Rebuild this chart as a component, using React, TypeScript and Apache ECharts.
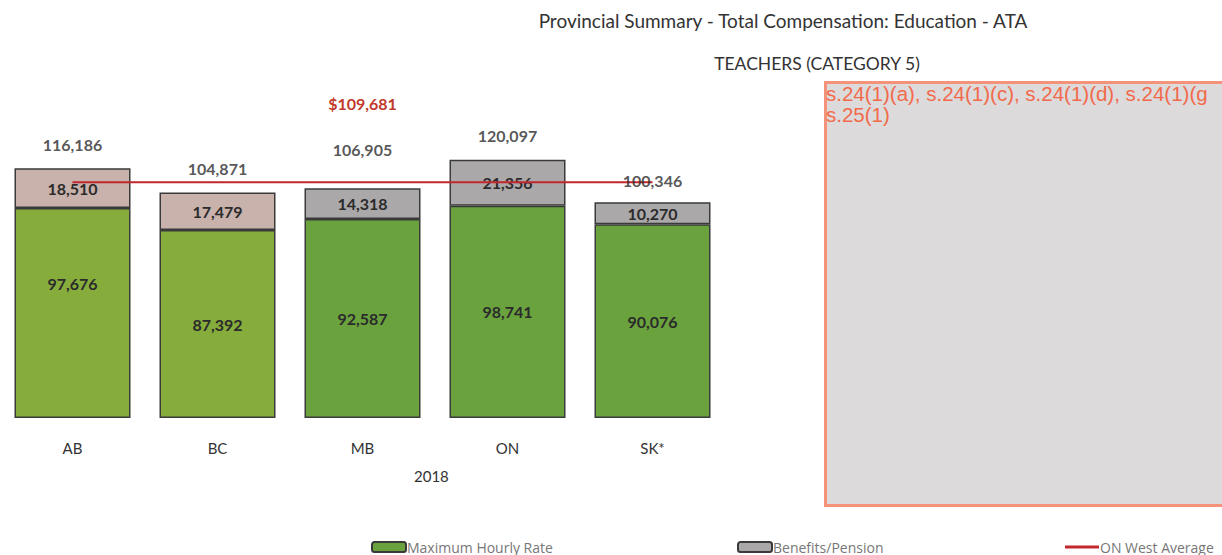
import React, { useEffect, useRef } from "react";
import * as echarts from "echarts";

const categories = ["AB", "BC", "MB", "ON", "SK*"];
const hourlyRate = [97676, 87392, 92587, 98741, 90076];
const benefits = [18510, 17479, 14318, 21356, 10270];
const totals = [116186, 104871, 106905, 120097, 100346];
const westAverage = [109681, 109681, 109681, 109681, 109681];

const greenColors = ["#86ad3c", "#86ad3c", "#6aa23e", "#6aa23e", "#6aa23e"];
const greyColors = ["#c9b1ac", "#c9b1ac", "#aba8aa", "#aba8aa", "#aba8aa"];

const FONT = "Lato";

export default function App() {
  const ref = useRef<HTMLDivElement>(null);
  useEffect(() => {
    const chart = echarts.init(ref.current!, undefined, { renderer: "svg" });
    const fmt = (v: number) => v.toLocaleString("en-US");
    const legendText = { fontSize: 14, color: "#777", fontFamily: "Open Sans", padding: [0, 0, 0, -4] };
    chart.setOption({
      animation: false,
      backgroundColor: "#ffffff",
      textStyle: { fontFamily: FONT },
      title: [
        {
          text: "Provincial Summary - Total Compensation: Education - ATA",
          left: 778,
          textAlign: "center",
          top: 6,
          textStyle: { fontFamily: FONT, fontSize: 19, fontWeight: "normal", color: "#333" },
        },
        {
          text: "TEACHERS (CATEGORY 5)",
          left: 812,
          textAlign: "center",
          top: 49,
          textStyle: { fontFamily: FONT, fontSize: 17.5, fontWeight: "normal", color: "#333" },
        },
      ],
      grid: { left: 0, width: 725, top: 117, height: 301, containLabel: false },
      xAxis: {
        type: "category",
        data: categories,
        axisLine: { show: false },
        axisTick: { show: false },
        axisLabel: { margin: 22, fontSize: 15, color: "#333", fontFamily: FONT },
      },
      yAxis: { type: "value", min: 0, max: 140000, show: false, splitLine: { show: false } },
      legend: [
        {
          data: ["Maximum Hourly Rate"],
          left: 366,
          top: 535,
          itemWidth: 34,
          itemHeight: 10,
          textStyle: legendText,
        },
        {
          data: ["Benefits/Pension"],
          left: 732,
          top: 535,
          itemWidth: 34,
          itemHeight: 10,
          textStyle: legendText,
        },
        {
          data: [{ name: "ON West Average", icon: "rect" }],
          left: 1060,
          top: 535,
          itemWidth: 34,
          itemHeight: 3,
          textStyle: legendText,
        },
      ],
      series: [
        {
          name: "Maximum Hourly Rate",
          type: "bar",
          stack: "total",
          barWidth: 116,
          itemStyle: { color: "#6aa23e", borderColor: "#3a3a3a", borderWidth: 1.5 },
          data: hourlyRate.map((v, i) => ({
            value: v,
            itemStyle: { color: greenColors[i] },
            label: i === 0 ? { offset: [0, -29] } : undefined,
          })),
          label: {
            show: true,
            position: "inside",
            formatter: (p: any) => fmt(p.value),
            fontSize: 16,
            fontWeight: "bold",
            color: "#2b2b2b",
            fontFamily: FONT,
          },
        },
        {
          name: "Benefits/Pension",
          type: "bar",
          stack: "total",
          barWidth: 116,
          itemStyle: { color: "#aba8aa", borderColor: "#3a3a3a", borderWidth: 1.5 },
          data: benefits.map((v, i) => ({ value: v, itemStyle: { color: greyColors[i] } })),
          label: {
            show: true,
            position: "inside",
            formatter: (p: any) => fmt(p.value),
            fontSize: 16,
            fontWeight: "bold",
            color: "#2b2b2b",
            fontFamily: FONT,
          },
        },
        {
          name: "ON West Average",
          type: "line",
          symbol: "circle",
          symbolSize: 0,
          showSymbol: true,
          lineStyle: { color: "#c1272d", width: 2 },
          itemStyle: { color: "#c1272d" },
          z: 5,
          data: westAverage.map((v, i) => ({
            value: v,
            label:
              i === 2
                ? {
                    show: true,
                    position: "top",
                    distance: 71,
                    formatter: "$" + fmt(v),
                    color: "#c0392b",
                    fontSize: 16,
                    fontWeight: "bold",
                    fontFamily: FONT,
                  }
                : { show: false },
          })),
        },
        {
          name: "Total",
          type: "scatter",
          symbolSize: 0,
          silent: true,
          z: 6,
          data: totals.map((v, i) => ({
            value: v,
            label: { distance: i === 2 ? 31 : i === 4 ? 14 : 16 },
          })),
          label: {
            show: true,
            position: "top",
            formatter: (p: any) => fmt(p.value),
            fontSize: 16,
            fontWeight: "bold",
            color: "#2b2b2b",
            fontFamily: FONT,
          },
        },
      ],
      graphic: [
        {
          type: "text",
          left: 414,
          top: 468,
          style: { text: "2018", fontSize: 15, fill: "#333", fontFamily: FONT },
        },
        {
          type: "rect",
          shape: { x: 825.5, y: 82.5, width: 400, height: 423 },
          style: { fill: "#dcdadb", stroke: "#f5937a", lineWidth: 3 },
        },
        {
          type: "text",
          x: 826,
          y: 83,
          style: {
            text: "s.24(1)(a), s.24(1)(c), s.24(1)(d), s.24(1)(g\ns.25(1)",
            fontSize: 20.5,
            lineHeight: 21,
            fill: "#f26a4b",
            fontFamily: "Liberation Sans",
          },
        },
      ],
    });
    return () => chart.dispose();
  }, []);
  return (
    <div
      ref={ref}
      style={{ position: "absolute", left: 0, top: 0, width: 1222, height: 555 }}
    />
  );
}
